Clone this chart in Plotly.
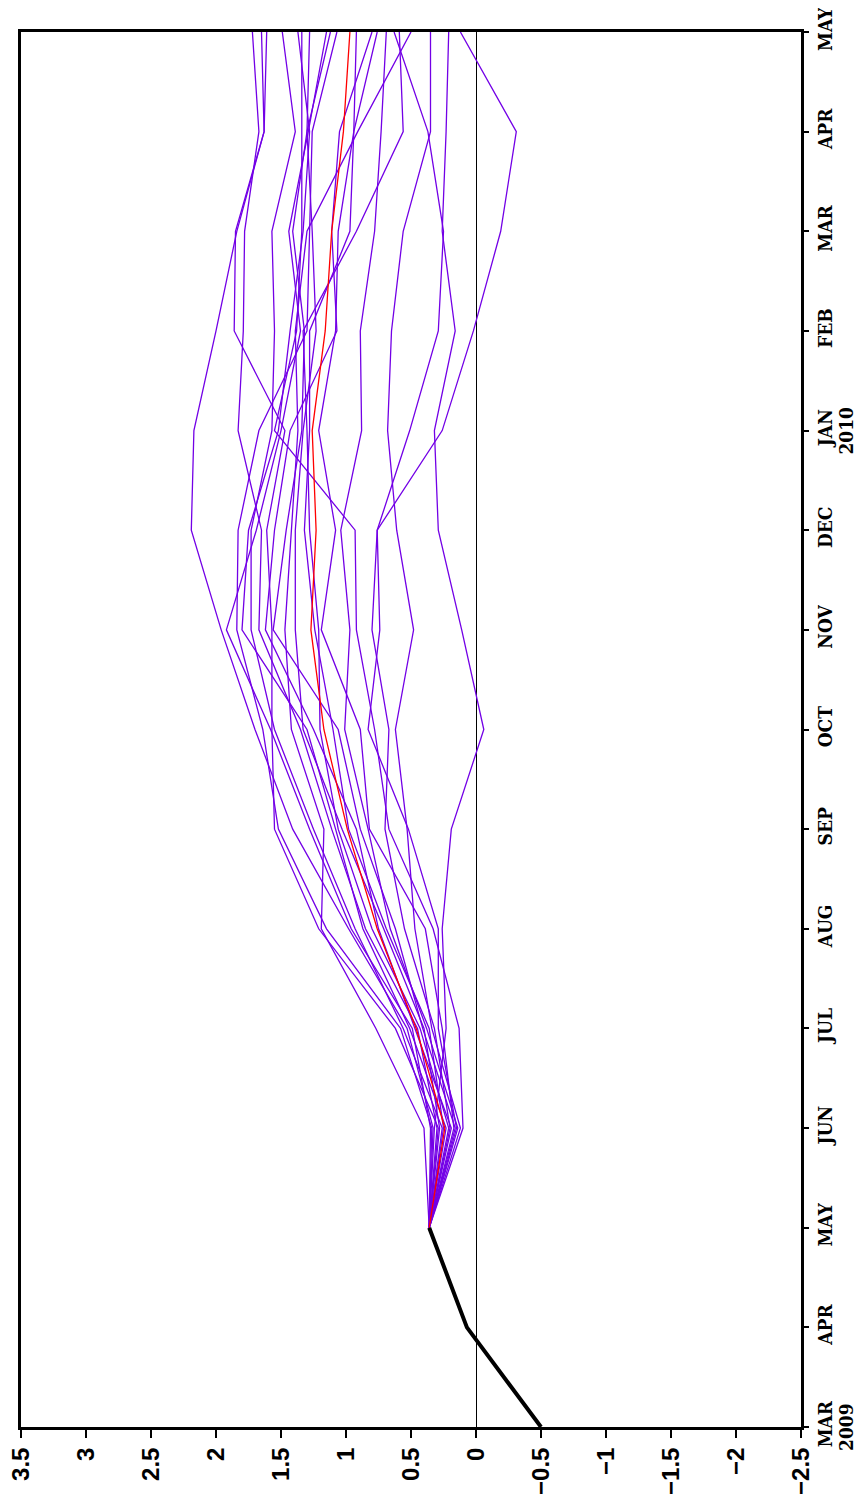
import plotly.graph_objects as go

# ---------------- data ----------------
month_labels = ['MAR', 'APR', 'MAY', 'JUN', 'JUL', 'AUG', 'SEP', 'OCT',
                'NOV', 'DEC', 'JAN', 'FEB', 'MAR', 'APR', 'MAY']
month_pos = list(range(len(month_labels)))          # 0 = MAR 2009 ... 14 = MAY 2010
year_labels = ['2009', '2010']
year_pos = [0, 10]                                  # MAR 2009, JAN 2010

obs = [-0.50, 0.07, 0.36]                          # observed MAR-MAY 2009
ens_mean = [0.24, 0.46, 0.76, 0.99, 1.17, 1.27, 1.23, 1.26, 1.16, 1.11, 1.02, 0.97]  # JUN 2009 - MAY 2010

m01 = [0.40, 0.77, 1.19, 1.17, 1.42, 1.47, 1.42, 1.37, 1.39, 1.30, 0.91, 0.50]
m02 = [0.29, 0.62, 1.21, 1.55, 1.57, 1.57, 1.61, 1.47, 1.86, 1.85, 1.63, 1.61]
m03 = [0.34, 0.58, 1.15, 1.52, 1.64, 1.84, 1.83, 1.67, 1.30, 1.28, 1.26, 1.07]
m04 = [0.26, 0.56, 0.93, 1.25, 1.55, 1.73, 1.73, 1.57, 1.55, 1.57, 1.39, 1.49]
m05 = [0.33, 0.53, 0.98, 1.41, 1.70, 1.96, 2.19, 2.17, 2.00, 1.84, 1.63, 1.65]
m06 = [0.23, 0.51, 0.87, 1.08, 1.30, 1.80, 1.75, 1.52, 1.43, 1.33, 1.28, 1.37]
m07 = [0.35, 0.49, 0.96, 1.28, 1.58, 1.92, 1.69, 1.50, 1.35, 1.44, 1.29, 1.15]
m08 = [0.19, 0.47, 0.75, 0.92, 1.25, 1.62, 1.55, 1.43, 1.07, 1.11, 1.05, 0.80]
m09 = [0.30, 0.45, 0.85, 1.11, 1.35, 1.67, 1.65, 1.83, 1.79, 1.78, 1.67, 1.72]
m10 = [0.21, 0.43, 0.80, 1.06, 1.20, 1.21, 1.28, 1.30, 1.33, 0.92, 0.56, 0.59]
m11 = [0.16, 0.41, 0.62, 0.89, 1.06, 1.56, 1.46, 1.34, 1.32, 1.41, 1.30, 1.28]
m12 = [0.28, 0.40, 0.71, 1.03, 1.33, 1.39, 1.39, 1.33, 1.23, 1.26, 1.30, 1.12]
m13 = [0.14, 0.38, 0.66, 0.83, 1.01, 0.97, 1.04, 0.88, 0.89, 0.78, 0.73, 0.69]
m14 = [0.25, 0.36, 0.69, 0.98, 1.10, 1.24, 1.32, 1.28, 1.28, 0.97, 0.94, 0.76]
m15 = [0.12, 0.34, 0.47, 0.53, 0.62, 0.48, 0.61, 0.68, 0.65, 0.56, 0.35, 0.35]
m16 = [0.20, 0.32, 0.55, 0.70, 0.67, 0.80, 0.76, 0.51, 0.29, 0.25, 0.37, 0.63]
m17 = [0.15, 0.29, 0.29, 0.52, 0.83, 0.74, 0.76, 0.26, 0.02, -0.19, -0.31, 0.12]
m18 = [0.17, 0.26, 0.39, 0.82, 0.89, 1.19, 1.08, 1.21, 1.08, 1.06, 0.94, 0.92]
m19 = [0.32, 0.23, 0.26, 0.19, -0.06, 0.11, 0.29, 0.32, 0.16, 0.26, 0.23, 0.21]
m20 = [0.10, 0.13, 0.33, 0.67, 0.78, 0.92, 0.93, 1.55, 1.38, 1.34, 1.34, 1.34]

members = [m01, m02, m03, m04, m05, m06, m07, m08, m09, m10,
           m11, m12, m13, m14, m15, m16, m17, m18, m19, m20]

value_ticks = [3.5, 3, 2.5, 2, 1.5, 1, 0.5, 0, -0.5, -1, -1.5, -2, -2.5]
value_tick_labels = ['3.5', '3', '2.5', '2', '1.5', '1', '0.5', '0',
                     '\u22120.5', '\u22121', '\u22121.5', '\u22122', '\u22122.5']

# ---------------- figure ----------------
obs_pos = month_pos[:3]
fc_pos = month_pos[2:]          # forecasts start from the last observed month
start = obs[-1]

fig = go.Figure()
for m in members:
    fig.add_trace(go.Scatter(x=[start] + m, y=fc_pos, mode='lines',
                             line=dict(color='#7300E6', width=1.3),
                             hoverinfo='skip'))
fig.add_trace(go.Scatter(x=[start] + ens_mean, y=fc_pos, mode='lines',
                         line=dict(color='#FF0000', width=1.3), hoverinfo='skip'))
fig.add_trace(go.Scatter(x=obs, y=obs_pos, mode='lines',
                         line=dict(color='black', width=4), hoverinfo='skip'))

month_font = dict(family='DejaVu Serif Condensed', size=19, color='black', weight='bold')

# year labels sit just right of the month label (tight line spacing as in the original)
for yl, yp in zip(year_labels, year_pos):
    fig.add_annotation(x=1, xref='paper', y=yp, yref='y', text=yl, showarrow=False,
                       textangle=-90, xanchor='center', yanchor='middle',
                       xshift=45, font=month_font)

# the page body adds an 8px margin, so the figure starts 8px in from the window edge
fig.update_layout(
    width=854, height=1496,
    margin=dict(l=13, r=61, t=24, b=77, autoexpand=False),
    plot_bgcolor='white', paper_bgcolor='white',
    showlegend=False,
    xaxis=dict(range=[3.5, -2.5], tickmode='array', tickvals=value_ticks,
               ticktext=value_tick_labels, tickangle=-90, automargin=False,
               ticks='outside', ticklen=8, tickwidth=2, tickcolor='black',
               showline=True, linewidth=3, linecolor='black', mirror=True,
               showgrid=False, zeroline=True, zerolinecolor='black', zerolinewidth=1,
               ticklabeloverflow='allow',
               tickfont=dict(family='Liberation Sans', size=24, color='black', weight='bold')),
    yaxis=dict(range=[0, 14], tickmode='array', tickvals=month_pos, ticktext=month_labels,
               side='right', tickangle=-90, automargin=False,
               ticks='outside', ticklen=5, tickwidth=2, tickcolor='black',
               showline=True, linewidth=3, linecolor='black', mirror=True,
               showgrid=False, zeroline=False, ticklabeloverflow='allow',
               tickfont=month_font),
)

fig.write_html('out.html')
